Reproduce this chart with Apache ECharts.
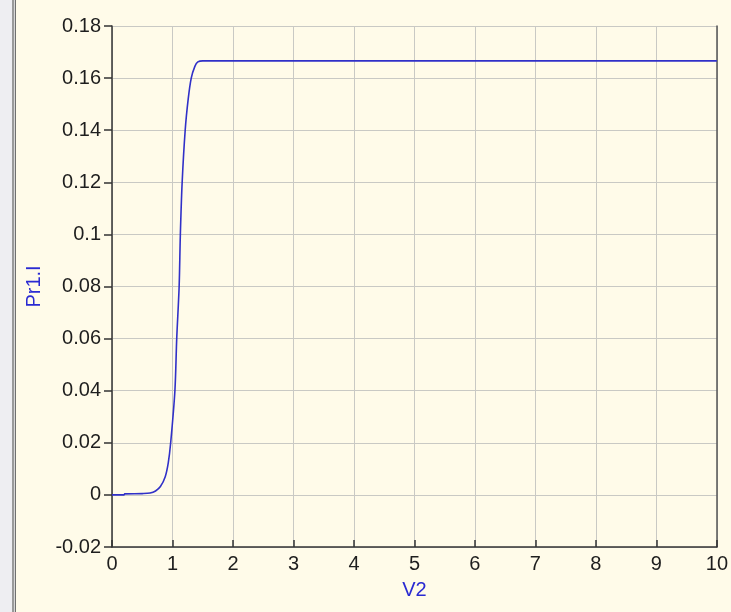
<!DOCTYPE html>
<html>
<head>
<meta charset="utf-8">
<script src="https://cdn.jsdelivr.net/npm/echarts@6/dist/echarts.min.js"></script>
<style>
  html, body { margin: 0; padding: 0; background: #fffbe9; }
  #chart { width: 731px; height: 612px; }
</style>
</head>
<body>
<div id="chart"></div>
<script>
// curve
const v2 = [0, 0.2, 0.21, 0.5, 0.63, 0.72, 0.8, 0.88, 0.93, 0.97, 1.04, 1.07, 1.11, 1.13, 1.16, 1.21, 1.26, 1.31, 1.37, 1.42, 1.5, 2, 5, 10];
const pr1 = [0, 0, 0.0004, 0.0005, 0.0007, 0.0015, 0.0032, 0.007, 0.0123, 0.02, 0.04, 0.06, 0.08, 0.1, 0.12, 0.14, 0.152, 0.16, 0.1645, 0.1662, 0.1666, 0.1666, 0.1666, 0.1666];
const yTicks = [-0.02, 0.18, 0.02];
const xTicks = [0, 10, 1];

const chart = echarts.init(document.getElementById('chart'));

const labelFont = { fontFamily: 'Liberation Sans, Arial', fontSize: 20, color: '#1e1e1e' };
const nameFont = { fontFamily: 'Liberation Sans, Arial', fontSize: 20, color: '#2a2ad2' };

chart.setOption({
  backgroundColor: '#fffbe9',
  animation: false,
  graphic: [
    { type: 'rect', shape: { x: 0, y: 0, width: 12, height: 612 }, style: { fill: '#eeeef2' } },
    { type: 'rect', shape: { x: 12, y: 0, width: 2, height: 612 }, style: { fill: '#9a9a9a' } },
    { type: 'rect', shape: { x: 14, y: 0, width: 1, height: 612 }, style: { fill: '#d8d8d8' } },
    { type: 'rect', shape: { x: 15, y: 0, width: 1, height: 612 }, style: { fill: '#707070' } }
  ],
  grid: { left: 112, right: 13, top: 26, bottom: 65 },
  xAxis: {
    type: 'value',
    min: xTicks[0], max: xTicks[1], interval: xTicks[2],
    name: 'V2', nameLocation: 'middle', nameGap: 33,
    nameTextStyle: nameFont,
    axisLine: { show: true, onZero: false, lineStyle: { color: '#333', width: 1.5 } },
    axisTick: { show: true, inside: true, length: 7, lineStyle: { color: '#333', width: 1.5 } },
    axisLabel: Object.assign({ margin: 7 }, labelFont),
    splitLine: { show: true, lineStyle: { color: '#c9c9c4', width: 1 } }
  },
  yAxis: [{
    type: 'value',
    min: yTicks[0], max: yTicks[1], interval: yTicks[2],
    name: 'Pr1.I', nameLocation: 'middle', nameGap: 66,
    nameTextStyle: nameFont,
    axisLine: { show: true, onZero: false, lineStyle: { color: '#333', width: 1.5 } },
    axisTick: { show: true, length: 8, lineStyle: { color: '#333', width: 1.5 } },
    axisLabel: Object.assign({ margin: 11, formatter: v => String(+v.toFixed(2)) }, labelFont),
    splitLine: { show: true, lineStyle: { color: '#c9c9c4', width: 1 } }
  }, {
    type: 'value', position: 'right',
    min: yTicks[0], max: yTicks[1], interval: yTicks[2],
    axisLine: { show: true, onZero: false, lineStyle: { color: '#555', width: 1.5 } },
    axisTick: { show: false }, axisLabel: { show: false }, splitLine: { show: false }
  }],
  series: [{
    type: 'line',
    data: v2.map((x, i) => [x, pr1[i]]),
    smooth: 0.3,
    showSymbol: false,
    lineStyle: { color: '#3030c8', width: 1.6 }
  }]
});
</script>
</body>
</html>
